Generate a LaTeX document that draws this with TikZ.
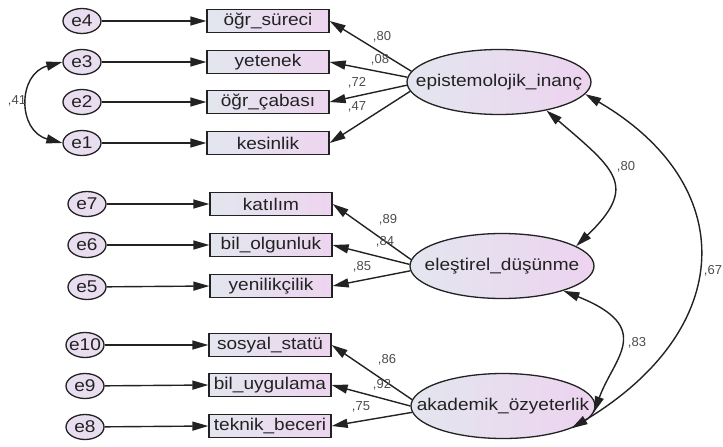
\documentclass[tikz,border=0pt]{standalone}
\usepackage{fontspec}
\setmainfont{Liberation Sans}[FakeStretch=1.12]
\newfontfamily\lblfam{Liberation Sans}
\usetikzlibrary{shapes.geometric,arrows.meta}
\definecolor{efill}{HTML}{E9DDF0}
\definecolor{boxL}{HTML}{E3E6EF}
\definecolor{boxR}{HTML}{EDD5EF}
\definecolor{latL}{HTML}{E3E6EF}
\definecolor{latR}{HTML}{EDD3EF}
\definecolor{ink}{HTML}{222222}
\newcommand{\myNF}{\fontsize{17}{18}\selectfont}
\newcommand{\myLF}{\lblfam\fontsize{13}{14}\selectfont}
\begin{document}
\begin{tikzpicture}[x=1pt,y=-1pt,
 evar/.style={ellipse, draw=ink, line width=1.3pt, fill=efill, minimum width=38pt, minimum height=25pt, inner sep=0pt, font=\myNF, text=ink},
 obs/.style={rectangle, draw=ink, line width=1.3pt, left color=boxL, right color=boxR, minimum width=122pt, minimum height=23pt, inner sep=0pt, font=\myNF, text=ink},
 lat/.style={ellipse, draw=ink, line width=1.3pt, left color=latL, right color=latR, minimum width=184pt, minimum height=65pt, inner sep=0pt, font=\myNF, text=ink},
 reg/.style={-{Triangle[length=16pt,width=9pt]}, line width=1.4pt, draw=ink},
 cov/.style={{Triangle[length=16pt,width=9pt]}-{Triangle[length=16pt,width=9pt]}, line width=1.4pt, draw=ink},
 lbl/.style={font=\myLF, text=black!70, inner sep=0pt}]
\useasboundingbox (0,0) rectangle (723,447);
% error terms
\node[evar] (e4) at (82,21) {\makebox[0pt]{e4}};
\node[evar] (e3) at (82,62) {\makebox[0pt]{e3}};
\node[evar] (e2) at (82,102) {\makebox[0pt]{e2}};
\node[evar] (e1) at (82,143) {\makebox[0pt]{e1}};
\node[evar] (e7) at (87,204) {\makebox[0pt]{e7}};
\node[evar] (e6) at (87,245) {\makebox[0pt]{e6}};
\node[evar] (e5) at (87,287) {\makebox[0pt]{e5}};
\node[evar] (e10) at (85,345) {\makebox[0pt]{e10}};
\node[evar] (e9) at (85,386) {\makebox[0pt]{e9}};
\node[evar] (e8) at (85,427) {\makebox[0pt]{e8}};
% observed
\node[obs] (r4) at (268,21) {öğr\_süreci};
\node[obs] (r3) at (268,62) {yetenek};
\node[obs] (r2) at (268,102) {öğr\_çabası};
\node[obs] (r1) at (268,143) {kesinlik};
\node[obs] (r7) at (271,204) {katılım};
\node[obs] (r6) at (271,245) {bil\_olgunluk};
\node[obs] (r5) at (271,286) {yenilikçilik};
\node[obs] (r10) at (270,345) {sosyal\_statü};
\node[obs] (r9) at (270,385) {bil\_uygulama};
\node[obs] (r8) at (270,426) {teknik\_beceri};
% latent
\node[lat] (epi) at (499,82) {\makebox[0pt]{epistemolojik\_inanç}};
\node[lat] (ele) at (502,266) {\makebox[0pt]{eleştirel\_düşünme}};
\node[lat] (aka) at (503,406) {\makebox[0pt]{akademik\_özyeterlik}};
% error arrows
\foreach \e/\r in {e4/r4,e3/r3,e2/r2,e1/r1,e7/r7,e6/r6,e5/r5,e10/r10,e9/r9,e8/r8}
  \draw[reg] (\e) -- (\r.west);
% loadings
\draw[reg] (epi.173.5) -- (r4.east);
\draw[reg] (epi.177.5) -- (r3.east);
\draw[reg] (epi.182.5) -- (r2.east);
\draw[reg] (epi.186.5) -- (r1.east);
\draw[reg] (ele.176) -- (r7.east);
\draw[reg] (ele.179.5) -- (r6.east);
\draw[reg] (ele.183) -- (r5.east);
\draw[reg] (aka.176) -- (r10.east);
\draw[reg] (aka.180) -- (r9.east);
\draw[reg] (aka.184) -- (r8.east);
% covariances
\draw[cov] (e3.west) .. controls +(-45,12) and +(-45,-12) .. (e1.west);
\draw[cov] (epi.-31) .. controls +(70,60) and +(62,-60) .. (ele.15);
\draw[cov] (epi.-8) .. controls +(154,90) and +(166,-100) .. (aka.-18);
\draw[cov] (ele.-22) .. controls +(92,37) and +(20,-55) .. (aka.-4);
% labels
\node[lbl] (l1) at (382,37) {,80};
\node[lbl] (l2) at (380,60) {,08};
\node[lbl] (l3) at (357,83) {,72};
\node[lbl] (l4) at (357,107) {,47};
\node[lbl] (l5) at (388,220) {,89};
\node[lbl] (l6) at (385,242) {,84};
\node[lbl] (l7) at (362,267) {,85};
\node[lbl] (l8) at (387,360) {,86};
\node[lbl] (l9) at (382,385) {,92};
\node[lbl] (l10) at (361,407) {,75};
\node[lbl] (c1) at (626,167) {,80};
\node[lbl] (c2) at (713,271) {,67};
\node[lbl] (c3) at (637,343) {,83};
\node[lbl] (c4) at (17,101) {,41};
\end{tikzpicture}
\end{document}
